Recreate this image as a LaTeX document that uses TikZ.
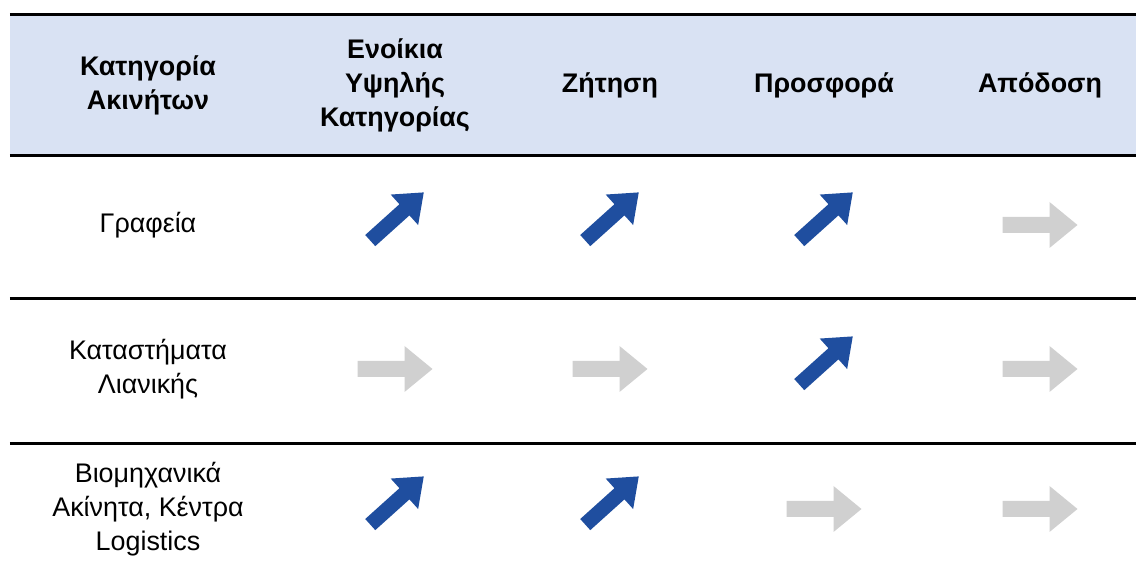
\documentclass[tikz,border=0pt]{standalone}
\usepackage{fontspec}
\setmainfont{Liberation Sans}
\usetikzlibrary{positioning}
\definecolor{hdrblue}{HTML}{D9E2F3}
\definecolor{trendup}{HTML}{1F4E9F}
\definecolor{trendflat}{HTML}{D0D0D0}
\tikzset{
  rule/.style    = {draw=black, line width=1.7pt},
  hdrcell/.style = {align=center, inner sep=0pt,
                    font=\bfseries\fontsize{15.3}{19.3}\selectfont},
  rowcell/.style = {align=center, inner sep=0pt,
                    font=\fontsize{15.3}{19.3}\selectfont},
  flatarr/.pic   = {\fill[trendflat] (-0.75,-0.16) -- (0.19,-0.16) -- (0.19,-0.46)
                      -- (0.75,0) -- (0.19,0.46) -- (0.19,0.16) -- (-0.75,0.16) -- cycle;},
  uparr/.pic     = {\begin{scope}[shift={(0.04,0.17)}, rotate=42]
                      \fill[trendup] (-0.72,-0.15) -- (0.2,-0.15) -- (0.2,-0.41)
                        -- (0.72,0) -- (0.2,0.41) -- (0.2,0.15) -- (-0.72,0.15) -- cycle;
                    \end{scope}},
}

\begin{document}
\begin{tikzpicture}
  \useasboundingbox (0,0) rectangle (22.72,11.5);
  % header band and rules
  \fill[hdrblue] (0.2,8.39) rectangle (22.72,11.21);
  \foreach \ry in {11.21,8.39,5.53,2.63}{\draw[rule] (0.2,\ry) -- (22.72,\ry);}
  % header row
  \node[hdrcell] (h1) at (2.96,9.80)  {Κατηγορία\\Ακινήτων};
  \node[hdrcell] (h2) at (7.90,9.80)  {Ενοίκια\\Υψηλής\\Κατηγορίας};
  \node[hdrcell] (h3) at (12.20,9.80) {Ζήτηση};
  \node[hdrcell] (h4) at (16.48,9.80) {Προσφορά};
  \node[hdrcell] (h5) at (20.80,9.80) {Απόδοση};
  % row labels
  \node[rowcell] (r1) at (2.96,7.00) {Γραφεία};
  \node[rowcell] (r2) at (2.96,4.12) {Καταστήματα\\Λιανικής};
  \node[rowcell] (r3) at (2.96,1.32) {Βιομηχανικά\\Ακίνητα, Κέντρα\\Logistics};
  % trend arrows
  \foreach \rw/\ta/\tb/\tc/\td in {r1/up/up/up/flat, r2/flat/flat/up/flat,
                                   r3/up/up/flat/flat}{
    \path (h2 |- \rw) pic {\ta arr};
    \path (h3 |- \rw) pic {\tb arr};
    \path (h4 |- \rw) pic {\tc arr};
    \path (h5 |- \rw) pic {\td arr};}
\end{tikzpicture}
\end{document}
